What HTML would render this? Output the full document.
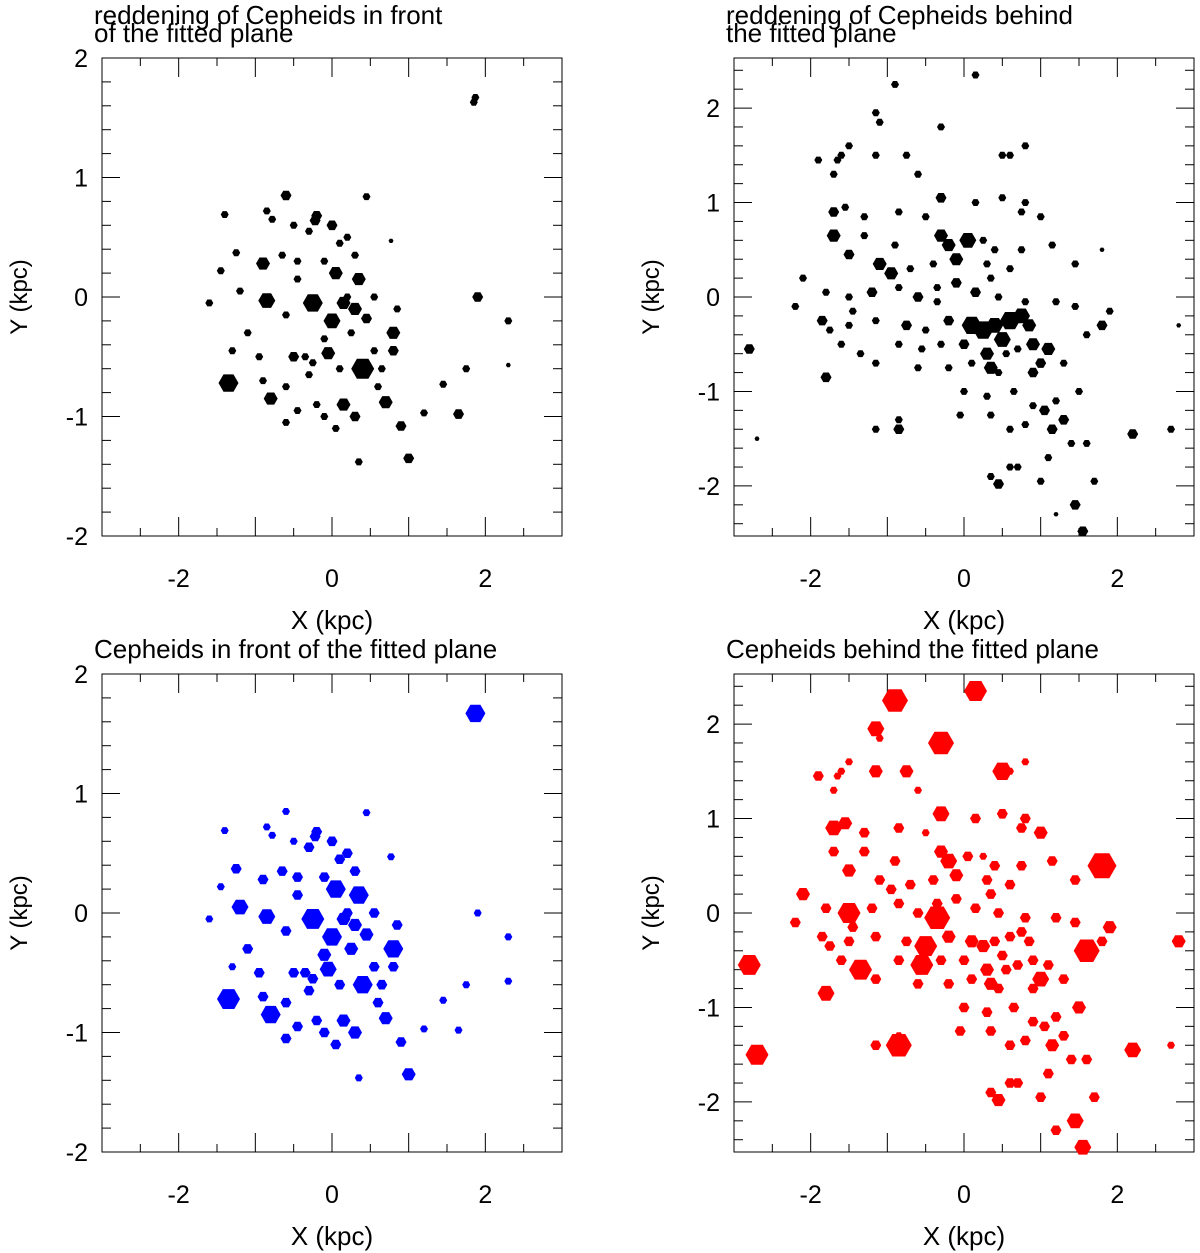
<!DOCTYPE html>
<html><head><meta charset="utf-8">
<style>
html,body{margin:0;padding:0;background:#fff;}
svg{display:block;}
text{font-family:"Liberation Sans",sans-serif;fill:#000;}
</style></head>
<body>
<svg id="c" width="1200" height="1253" viewBox="0 0 1200 1253" xmlns="http://www.w3.org/2000/svg"></svg>
<script>
// ---- data: Cepheids in front of the fitted plane ----
const frontX = [1.87,1.85,-0.6,0.45,-1.4,-0.2,-0.22,-0.85,-0.78,-0.5,-0.3,0,0.2,0.1,0.77,-1.25,-0.9,-1.45,-0.65,-0.45,0.05,0.35,0.3,-0.1,-0.45,0.2,0.55,-1.2,-0.85,-0.25,0,0.15,0.3,0.45,0.85,0.8,-1.6,-0.6,-0.1,0.25,-1.1,-1.3,-0.5,-0.35,-0.25,-0.05,0.1,0.4,0.65,0.8,-1.35,-0.9,-0.8,-0.6,-0.3,-0.45,-0.2,-0.6,0.15,0.3,0.05,-0.1,0.7,0.9,1,0.35,1.2,1.45,1.75,1.65,1.9,2.3,2.3,-0.95,0.55,0.6];
const frontY = [1.67,1.63,0.85,0.84,0.69,0.68,0.64,0.72,0.65,0.6,0.55,0.6,0.5,0.45,0.47,0.37,0.28,0.22,0.35,0.3,0.2,0.15,0.35,0.3,0.15,0,0,0.05,-0.03,-0.05,-0.2,-0.05,-0.1,-0.18,-0.1,-0.3,-0.05,-0.15,-0.35,-0.3,-0.3,-0.45,-0.5,-0.5,-0.55,-0.47,-0.6,-0.6,-0.6,-0.45,-0.72,-0.7,-0.85,-0.75,-0.65,-0.95,-0.9,-1.05,-0.9,-1,-1.1,-1,-0.88,-1.08,-1.35,-1.38,-0.97,-0.73,-0.6,-0.98,0,-0.2,-0.57,-0.5,-0.45,-0.75];
const frontRedd = [2,2,3,2,2,3,3,2,2,2,2,3,2,2,1,2,4,2,2,2,4,4,2,2,2,2,2,2,5,6,5,4,4,3,2,4,2,2,2,2,2,2,3,2,2,4,2,7,2,3,6,2,4,2,2,2,2,2,4,3,2,2,4,3,3,2,2,2,2,3,3,2,1,2,2,2];
const frontSize = [6,2,2,2,2,3,3,2,2,2,3,3,3,3,2,3,3,2,3,3,6,6,3,3,3,3,3,5,5,7,6,4,4,4,3,6,2,3,4,4,3,2,3,3,3,5,3,6,3,3,7,3,6,3,3,3,3,3,4,4,3,3,4,3,4,2,2,2,2,2,2,2,2,3,3,3];
// ---- data: Cepheids behind the fitted plane ----
const behindX = [-2.8,-2.7,-0.9,0.15,-1.5,-1.6,-1.65,-1.15,-1.1,-0.3,-0.75,0.5,0.6,0.8,-1.9,-1.7,-1.55,-1.15,-0.6,-0.3,0.15,0.5,0.75,0.8,-1.7,-1.3,-0.85,-0.5,1,-1.7,-1.3,-0.9,-0.3,-0.2,0.05,0.25,0.4,0.75,1.15,-1.5,-1.1,-0.95,-0.7,-0.4,-0.1,0.3,0.6,1.45,1.8,-2.1,-1.8,-1.5,-1.2,-0.85,-0.6,-0.35,-0.1,0.15,0.45,0.8,1.2,1.45,1.9,2.8,-2.2,-1.85,-1.5,-1.15,-0.75,-0.5,-0.2,0.1,0.25,0.4,0.6,0.75,0.85,0.5,0.9,1.1,1.6,1.8,-1.6,-1.35,-0.85,-0.55,-0.3,0,0.3,0.55,0.7,1,-1.8,-1.15,-0.6,-0.2,0.1,0.35,0.45,0.9,1.3,0,0.3,0.65,0.9,1.05,1.2,1.5,1.3,-0.05,0.35,0.6,0.8,1.15,1.4,1.6,2.2,2.7,-0.85,-0.85,-1.15,0.6,0.7,0.35,0.45,1,1.1,1.2,1.45,1.55,1.7,-1.75,-1.45,-0.35,0.35];
const behindY = [-0.55,-1.5,2.25,2.35,1.6,1.5,1.45,1.95,1.85,1.8,1.5,1.5,1.5,1.6,1.45,1.3,0.95,1.5,1.3,1.05,1,1.05,0.9,1,0.9,0.85,0.9,0.85,0.85,0.65,0.65,0.55,0.65,0.55,0.6,0.6,0.5,0.5,0.55,0.45,0.35,0.25,0.3,0.35,0.4,0.35,0.3,0.35,0.5,0.2,0.05,0,0.05,0.1,0,0.1,0.15,0.05,0,-0.05,-0.05,-0.1,-0.15,-0.3,-0.1,-0.25,-0.3,-0.25,-0.3,-0.35,-0.25,-0.3,-0.35,-0.3,-0.25,-0.2,-0.3,-0.45,-0.5,-0.55,-0.4,-0.3,-0.5,-0.6,-0.5,-0.55,-0.5,-0.5,-0.6,-0.6,-0.55,-0.7,-0.85,-0.7,-0.75,-0.75,-0.7,-0.75,-0.8,-0.8,-0.7,-1,-1.05,-1,-1.15,-1.2,-1.1,-1,-1.3,-1.25,-1.25,-1.4,-1.35,-1.4,-1.55,-1.55,-1.45,-1.4,-1.3,-1.4,-1.4,-1.8,-1.8,-1.9,-1.98,-1.95,-1.7,-2.3,-2.2,-2.48,-1.95,-0.35,-0.15,-0.05,0.2];
const behindRedd = [3,1,2,2,2,2,2,2,2,2,2,2,2,2,2,2,2,2,2,3,2,2,2,2,3,2,2,2,2,4,2,2,4,4,5,2,2,2,2,3,4,4,2,2,4,2,2,2,1,2,2,2,3,2,3,2,3,3,2,2,2,2,2,1,2,3,2,2,3,2,3,6,6,5,6,5,4,5,4,4,2,3,2,2,2,2,2,3,4,2,2,3,3,2,2,2,2,4,2,3,2,2,2,2,2,3,2,2,3,2,2,2,2,3,2,2,3,2,2,3,2,2,2,2,3,2,2,1,3,3,2,2,2,2,2];
const behindSize = [7,7,8,7,2,2,2,5,2,8,4,6,2,2,3,2,4,4,2,5,3,3,3,3,5,3,3,2,4,3,3,3,4,5,3,2,3,3,3,4,3,3,3,3,4,3,3,3,9,4,3,7,3,3,3,3,3,3,3,3,3,3,4,4,3,3,3,3,3,7,4,4,4,3,3,3,3,3,3,3,8,3,3,7,3,7,3,3,4,3,3,5,5,3,3,3,3,4,3,3,3,3,3,3,3,3,3,4,3,3,3,3,3,4,3,3,5,2,2,8,3,3,3,3,4,3,3,3,5,5,3,3,3,8,3];

const svg = document.getElementById('c');
const NS = 'http://www.w3.org/2000/svg';
function mk(tag, attrs, parent){
  const e = document.createElementNS(NS, tag);
  for (const k in attrs) e.setAttribute(k, attrs[k]);
  parent.appendChild(e);
  return e;
}
function hex(cx, cy, r){
  let p = [];
  for (let i=0;i<6;i++){ const a = Math.PI/3*i; p.push((cx+r*Math.cos(a)).toFixed(1)+','+(cy+r*Math.sin(a)).toFixed(1)); }
  return p.join(' ');
}
function panel(cfg){
  const g = mk('g', {}, svg);
  
  
  const L=cfg.left, T=cfg.top, W=460, H=478;
  const sx = v => L + (v - cfg.xmin) / (cfg.xmax - cfg.xmin) * W;
  const sy = v => T + (cfg.ymax - v) / (cfg.ymax - cfg.ymin) * H;
  const frame = mk('rect', {x:L, y:T, width:W, height:H, fill:'none', stroke:'#000', 'stroke-width':1}, g);
  
  
  for (let v = Math.ceil(cfg.xmin*2)/2; v <= cfg.xmax+1e-9; v += 0.5){
    const major = Math.abs(v - Math.round(v)) < 1e-6;
    const len = major ? 19 : 8, x = sx(v);
    mk('line', {x1:x, y1:T+H, x2:x, y2:T+H-len, stroke:'#000'}, g);
    mk('line', {x1:x, y1:T, x2:x, y2:T+len, stroke:'#000'}, g);
  }
  for (let v = Math.ceil(cfg.ymin*5-1e-9)/5; v <= cfg.ymax+1e-9; v += 0.2){
    const major = Math.abs(v - Math.round(v)) < 1e-6;
    const len = major ? 18 : 9, y = sy(v);
    mk('line', {x1:L, y1:y, x2:L+len, y2:y, stroke:'#000'}, g);
    mk('line', {x1:L+W, y1:y, x2:L+W-len, y2:y, stroke:'#000'}, g);
  }
  [-2,0,2].forEach(v=>{
    const t = mk('text', {x:sx(v), y:T+H+51, 'font-size':25, 'text-anchor':'middle'}, g);
    t.textContent = v;
    
    
  });
  cfg.yticks.forEach(v=>{
    const t = mk('text', {x:L-14, y:sy(v)+9, 'font-size':25, 'text-anchor':'end'}, g);
    t.textContent = v;
    
    
  });
  const xl = mk('text', {x:L+W/2, y:T+H+93, 'font-size':26, 'text-anchor':'middle'}, g);
  xl.textContent = 'X (kpc)';
  
  
  const yl = mk('text', {x:0, y:0, 'font-size':24, 'text-anchor':'middle', 'font-family':'"Liberation Serif", serif', transform:'translate('+(L-75)+','+(T+H/2)+') rotate(-90)'}, g);
  yl.textContent = 'Y (kpc)';
  
  
  cfg.title.forEach((line,i)=>{
    const t = mk('text', {x:L-8, y:T-34+i*18+(cfg.title.length==1?18:0), 'font-size':26}, g);
    t.textContent = line;
    
    
  });
  for (let i=0;i<cfg.xs.length;i++){
    const p = mk('polygon', {points:hex(sx(cfg.xs[i]), sy(cfg.ys[i]), cfg.rs[i]*1.5+1), fill:cfg.color}, g);
    
    
  }
}
panel({name:'panel-front-reddening', left:102, top:58, xmin:-3, xmax:3, ymin:-2, ymax:2, yticks:[-2,-1,0,1,2], title:['reddening of Cepheids in front','of the fitted plane'], xs:frontX, ys:frontY, rs:frontRedd, color:'#000'});
panel({name:'panel-behind-reddening', left:734, top:58, xmin:-3, xmax:3, ymin:-2.53, ymax:2.53, yticks:[-2,-1,0,1,2], title:['reddening of Cepheids behind','the fitted plane'], xs:behindX, ys:behindY, rs:behindRedd, color:'#000'});
panel({name:'panel-front-cepheids', left:102, top:674, xmin:-3, xmax:3, ymin:-2, ymax:2, yticks:[-2,-1,0,1,2], title:['Cepheids in front of the fitted plane'], xs:frontX, ys:frontY, rs:frontSize, color:'#0000ff'});
panel({name:'panel-behind-cepheids', left:734, top:674, xmin:-3, xmax:3, ymin:-2.53, ymax:2.53, yticks:[-2,-1,0,1,2], title:['Cepheids behind the fitted plane'], xs:behindX, ys:behindY, rs:behindSize, color:'#ff0000'});
</script>
</body></html>
